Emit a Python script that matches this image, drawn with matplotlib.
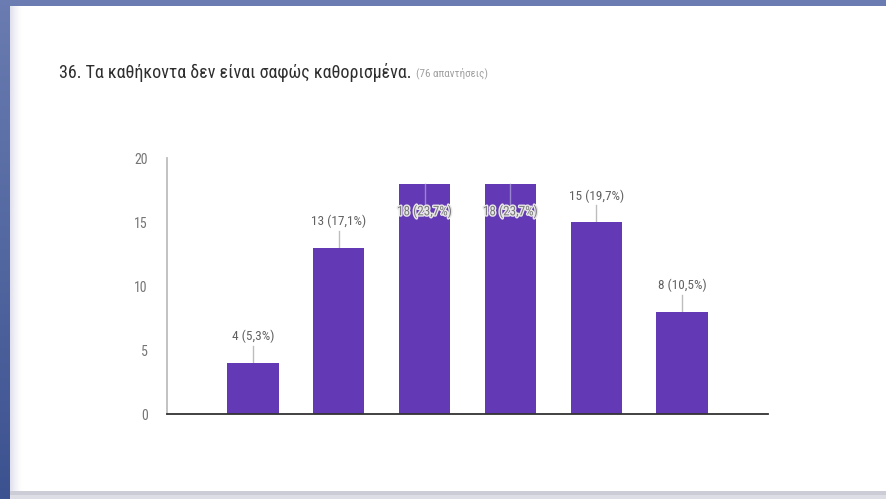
import numpy as np
import matplotlib
matplotlib.use("Agg")
import matplotlib.pyplot as plt
from matplotlib import font_manager
import matplotlib.patheffects as pe

# ---- data ----
categories = ["1", "2", "3", "4", "5", "6"]
counts = [4, 13, 18, 18, 15, 8]
total_responses = 76
title_text = "36. Τα καθήκοντα δεν είναι σαφώς καθορισμένα."
subtitle_text = "(76 απαντήσεις)"
y_ticks = [0, 5, 10, 15, 20]

# ---- font choice ----
names = {f.name for f in font_manager.fontManager.ttflist}
family = None
for cand in ["Roboto Condensed", "Liberation Sans Narrow", "Arial Narrow", "Roboto"]:
    if cand in names:
        family = cand
        break
if family is None:
    family = "DejaVu Sans"
plt.rcParams["font.family"] = [family, "DejaVu Sans"]

W, H = 887, 499
fig = plt.figure(figsize=(W / 100, H / 100), dpi=100)

# ---- background (screenshot frame) ----
bg = np.ones((H, W, 3))
top_col = np.array([0x6a, 0x7c, 0xb1]) / 255
bot_col = np.array([0x3c, 0x52, 0x90]) / 255
t = np.linspace(0, 1, H)[:, None]
left_grad = top_col * (1 - t) + bot_col * t
bg[:, :10, :] = left_grad[:, None, :]
bg[:6, :, :] = top_col
# left shadow of card
for i in range(12):
    a = (1 - i / 12) ** 1.5
    col = np.array([0.88, 0.88, 0.93]) * a + np.array([1, 1, 1]) * (1 - a)
    bg[6:491, 10 + i, :] = col
# bottom shadow
bg[491:495, 10:, :] = np.array([0.80, 0.80, 0.84])
bg[495:, 10:, :] = np.array([0.87, 0.87, 0.90])
bga = fig.add_axes([0, 0, 1, 1], zorder=-5)
bga.imshow(bg, aspect="auto", extent=[0, 1, 0, 1], interpolation="bilinear")
bga.axis("off")

# ---- title ----
title = fig.text(59 / W, 1 - 72 / H, title_text, fontsize=13, color="#2e2e2e",
                 ha="left", va="center")
fig.canvas.draw()
bb = title.get_window_extent(renderer=fig.canvas.get_renderer())
fig.text((bb.x1 + 5) / W, 1 - 73 / H, subtitle_text, fontsize=8, color="#a0a0a0",
         ha="left", va="center")

# ---- chart ----
x0, x1 = 167, 768
yb, yt = 414, 158
ax = fig.add_axes([x0 / W, 1 - yb / H, (x1 - x0) / W, (yb - yt) / H])
ax.set_facecolor("none")
x = np.arange(len(counts))
bar_color = "#6439b5"
ax.bar(x, counts, width=0.6, color=bar_color, zorder=2)
ax.set_xlim(-1, len(counts))
ax.set_ylim(0, 20)
ax.set_yticks(y_ticks)
ax.set_yticklabels([str(v) for v in y_ticks], fontsize=10, color="#757575")
ax.set_xticks([])
for s in ["top", "right"]:
    ax.spines[s].set_visible(False)
ax.spines["left"].set_color("#bdbdbd")
ax.spines["left"].set_linewidth(1.3)
ax.spines["bottom"].set_color("#333333")
ax.spines["bottom"].set_linewidth(1.3)
ax.spines["bottom"].set_zorder(3)
ax.tick_params(axis="y", length=0, pad=14)

px_per_unit = (yb - yt) / 20.0
for xi, v in zip(x, counts):
    pct = v / total_responses * 100
    label = f"{v} ({pct:.1f}%)".replace(".", ",")
    if v > 16:
        # label placed inside the bar
        ly = v - 28 / px_per_unit
        ax.plot([xi, xi], [v, v - 20 / px_per_unit], color="#9a86cf", lw=1, zorder=3)
        ax.text(xi, ly, label, ha="center", va="center", fontsize=9.5,
                color="#7a7a7a", zorder=4,
                path_effects=[pe.withStroke(linewidth=2, foreground="#e8e8e8")])
    else:
        ly = v + 26 / px_per_unit
        ax.plot([xi, xi], [v, v + 17 / px_per_unit], color="#bdbdbd", lw=1,
                zorder=1, clip_on=False)
        ax.text(xi, ly, label, ha="center", va="center", fontsize=9.5,
                color="#616161", zorder=4, clip_on=False)

fig.savefig("out.png", dpi=100)
